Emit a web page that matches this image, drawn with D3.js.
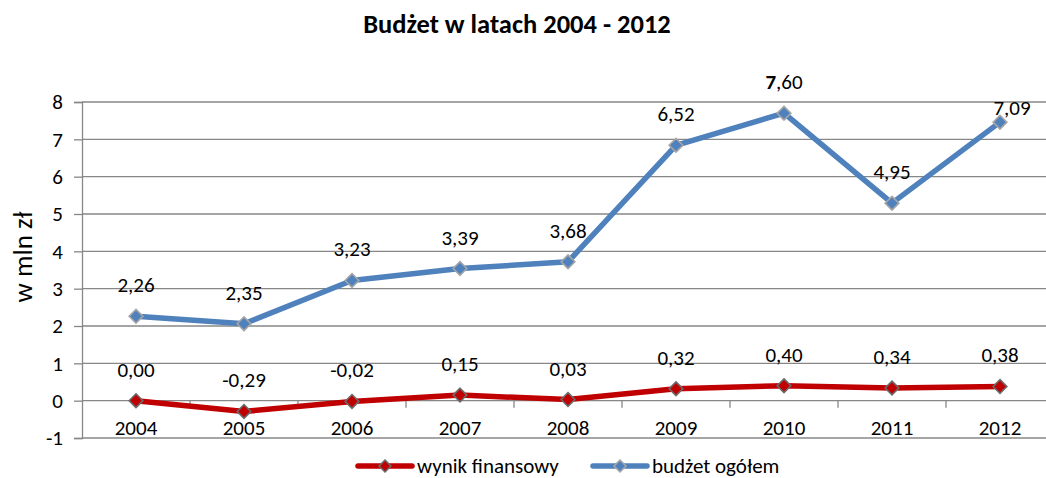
<!DOCTYPE html>
<html>
<head>
<meta charset="utf-8">
<script src="https://cdn.jsdelivr.net/npm/d3@7"></script>
<style>
  body { margin: 0; background: #fff; }
  svg { font-family: Carlito, Calibri, "Open Sans", sans-serif; }
</style>
</head>
<body>
<svg id="chart"></svg>
<script>
// dane wykresu
const years = ['2004', '2005', '2006', '2007', '2008', '2009', '2010', '2011', '2012'];
const wynik = [0.00, -0.29, -0.02, 0.15, 0.03, 0.32, 0.40, 0.34, 0.38];
const wynikLabels = ['0,00', '-0,29', '-0,02', '0,15', '0,03', '0,32', '0,40', '0,34', '0,38'];
const budzet = [2.26, 2.06, 3.22, 3.54, 3.72, 6.84, 7.70, 5.29, 7.46];
const budzetLabels = ['2,26', '2,35', '3,23', '3,39', '3,68', '6,52', '7,60', '4,95', '7,09'];
const yTicks = [-1, 0, 1, 2, 3, 4, 5, 6, 7, 8];

const width = 1046;
const height = 478;
const plotLeft = 82, plotRight = 1054, plotTop = 102, plotBottom = 438;
const fontSize = 21;
const fam = 'Carlito, Calibri, "Open Sans", sans-serif';

const svg = d3.select('#chart')
  .attr('width', width)
  .attr('height', height);

const x = d3.scaleBand().domain(years).range([plotLeft, plotRight]);
const y = d3.scaleLinear().domain([-1, 8]).range([plotBottom, plotTop]);

// tytuł
svg.append('text')
  .attr('x', 517).attr('y', 33)
  .attr('text-anchor', 'middle')
  .attr('font-size', 26.5).attr('font-weight', 'bold')
  .text('Budżet w latach 2004 - 2012');

// siatka
svg.append('g')
  .selectAll('line')
  .data(yTicks)
  .enter()
  .append('line')
  .attr('x1', plotLeft).attr('x2', plotRight)
  .attr('y1', d => y(d)).attr('y2', d => y(d))
  .attr('stroke', '#878787').attr('stroke-width', 1.3);

// oś Y
const yAxis = svg.append('g')
  .attr('transform', `translate(${plotLeft},0)`)
  .call(d3.axisLeft(y).tickValues(yTicks).tickSize(8).tickPadding(11).tickFormat(d => d));
yAxis.select('.domain').attr('stroke', '#878787').attr('stroke-width', 1.3);
yAxis.selectAll('.tick line').attr('stroke', '#878787').attr('stroke-width', 1.3);
yAxis.selectAll('text').attr('font-size', fontSize).attr('fill', '#000')
  .style('font-family', fam);

// oś X na poziomie 0
const xAxis = svg.append('g')
  .attr('transform', `translate(0,${y(0)})`)
  .call(d3.axisBottom(x).tickSize(0).tickPadding(19));
xAxis.select('.domain').remove();
xAxis.selectAll('text').attr('font-size', fontSize).attr('fill', '#000')
  .style('font-family', fam);
svg.append('g')
  .selectAll('line')
  .data(years.slice(1))
  .enter()
  .append('line')
  .attr('x1', d => x(d)).attr('x2', d => x(d))
  .attr('y1', y(0)).attr('y2', y(0) + 7)
  .attr('stroke', '#878787').attr('stroke-width', 1.3);

// tytuł osi Y
svg.append('text')
  .attr('transform', 'translate(32,257) rotate(-90)')
  .attr('text-anchor', 'middle')
  .attr('font-size', 27)
  .text('w mln zł');

const cx = d => x(d) + x.bandwidth() / 2;
const diamond = d3.symbol().type(d3.symbolDiamond2).size(120);

function series(values, labels, color, markerStroke) {
  const line = d3.line()
    .x((d, i) => cx(years[i]))
    .y(d => y(d));
  svg.append('path')
    .datum(values)
    .attr('d', line)
    .attr('fill', 'none')
    .attr('stroke', color)
    .attr('stroke-width', 5.5)
    .attr('stroke-linejoin', 'round')
    .attr('stroke-linecap', 'round');
  svg.append('g')
    .selectAll('path')
    .data(values)
    .enter()
    .append('path')
    .attr('d', diamond)
    .attr('transform', (d, i) => `translate(${cx(years[i])},${y(d)})`)
    .attr('fill', color)
    .attr('stroke', markerStroke)
    .attr('stroke-width', 1.6);
  return svg.append('g')
    .selectAll('text')
    .data(values)
    .enter()
    .append('text')
    .attr('x', (d, i) => cx(years[i]))
    .attr('y', d => y(d) - 24)
    .attr('text-anchor', 'middle')
    .attr('font-size', fontSize)
    .text((d, i) => labels[i]);
}

series(wynik, wynikLabels, '#c00000', '#6b6b6b');
const bl = series(budzet, budzetLabels, '#4f81bd', '#a6a6a6');

// etykieta 2012 przesunięta ręcznie, jak w oryginale
bl.filter((d, i) => i === 8)
  .attr('x', cx('2012') + 12)
  .attr('y', d => y(d) - 7);
// "7" pogrubione w etykiecie 2010
bl.filter((d, i) => i === 6)
  .text(null)
  .call(t => {
    t.append('tspan').attr('font-weight', 'bold').text('7');
    t.append('tspan').text(',60');
  });

// legenda
const legend = [
  { name: 'wynik finansowy', color: '#c00000', stroke: '#6b6b6b', x: 358 },
  { name: 'budżet ogółem', color: '#4f81bd', stroke: '#a6a6a6', x: 593 }
];
const lg = svg.append('g')
  .selectAll('g')
  .data(legend)
  .enter()
  .append('g')
  .attr('transform', d => `translate(${d.x},466)`);
lg.append('line')
  .attr('x1', 0).attr('x2', 54)
  .attr('stroke', d => d.color).attr('stroke-width', 5.5)
  .attr('stroke-linecap', 'round');
lg.append('path')
  .attr('d', d3.symbol().type(d3.symbolDiamond2).size(90))
  .attr('transform', 'translate(27,0)')
  .attr('fill', d => d.color)
  .attr('stroke', d => d.stroke).attr('stroke-width', 1.6);
lg.append('text')
  .attr('x', 59).attr('y', 7)
  .attr('font-size', fontSize)
  .text(d => d.name);
</script>
</body>
</html>
